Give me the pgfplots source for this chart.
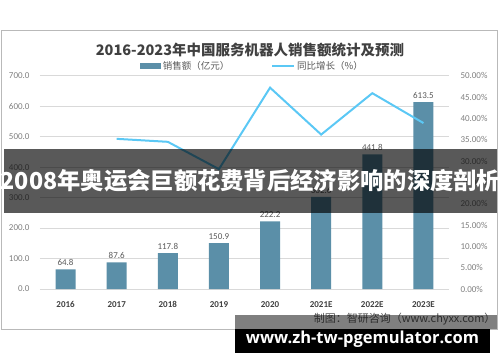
\documentclass[border=0pt]{standalone}
\usepackage{fontspec}
\setmainfont{Carlito}
\newfontfamily\cjk{Noto Sans CJK SC}
\newfontfamily\urlfont{Open Sans}
\usepackage{pgfplots}
\pgfplotsset{compat=1.18}
\definecolor{barc}{HTML}{5B8FA8}
\definecolor{linec}{HTML}{5BC8F5}
\definecolor{gridc}{HTML}{D9D9D9}
\definecolor{tickc}{HTML}{7F7F7F}
\definecolor{labc}{HTML}{595959}
\definecolor{catc}{HTML}{404040}
\begin{document}
\begin{tikzpicture}
\useasboundingbox (-40bp,-73bp) rectangle (460bp,289bp);
\draw[gray!55, line width=0.9bp] (-39bp,-40bp) rectangle (457bp,259bp);
\node[font=\cjk\bfseries\fontsize{14.5bp}{16bp}\selectfont, text=catc] at (210bp,239bp) {2016-2023年中国服务机器人销售额统计及预测};
\begin{axis}[
  at={(0bp,0bp)}, anchor=south west, scale only axis,
  width=409bp, height=213.3bp,
  xmin=-0.5, xmax=7.5, ymin=0, ymax=700,
  axis line style={draw=none}, tick style={draw=none},
  ytick={0,100,...,700}, ymajorgrids, grid style={gridc, line width=0.9bp},
  xtick={0,...,7}, xticklabels={2016,2017,2018,2019,2020,2021E,2022E,2023E},
  xticklabel style={font=\bfseries\fontsize{9bp}{10bp}\selectfont, text=catc, yshift=-5bp},
  yticklabel style={font=\fontsize{9bp}{10bp}\selectfont, text=tickc, xshift=-7bp},
  yticklabel={\pgfmathprintnumber[fixed,fixed zerofill,precision=1]{\tick}},
  /pgf/number format/assume math mode=true,
  ybar, bar width=20bp,
  nodes near coords,
  nodes near coords style={font=\fontsize{9bp}{10bp}\selectfont, text=labc, /pgf/number format/.cd, fixed, fixed zerofill, precision=1, assume math mode=true},
  clip=false,
]
\addplot[fill=barc, draw=none] coordinates {(0,64.8) (1,87.6) (2,117.8) (3,150.9) (4,222.2) (5,302.6) (6,441.8) (7,613.5)};
\end{axis}
\begin{axis}[
  at={(0bp,0bp)}, anchor=south west, scale only axis,
  width=409bp, height=213.3bp,
  xmin=-0.5, xmax=7.5, ymin=0, ymax=50,
  axis y line*=right, axis x line=none,
  axis line style={draw=none}, tick style={draw=none},
  ytick={0,5,...,50},
  yticklabel style={font=\fontsize{9bp}{10bp}\selectfont, text=tickc, xshift=8bp},
  yticklabel={\pgfmathprintnumber[fixed,fixed zerofill,precision=2]{\tick}\%},
  /pgf/number format/assume math mode=true,
  clip=false,
  legend style={at={(0.52,1.045)}, anchor=center, draw=none, fill=none,
    legend columns=2, font=\cjk\fontsize{9.5bp}{11bp}\selectfont, text=labc,
    /tikz/every even column/.append style={column sep=40bp}},
]
\addlegendimage{legend image code/.code={\fill[barc] (0bp,-2.5bp) rectangle (20bp,2.5bp);}}
\addlegendentry{销售额（亿元）}
\addplot[linec, line width=2bp, mark=none, legend image code/.code={\draw[linec, line width=2bp] (0bp,0bp) -- (22bp,0bp);}] coordinates {(1,35.2) (2,34.5) (3,28.1) (4,47.2) (5,36.2) (6,45.9) (7,38.9)};
\addlegendentry{同比增长（\%）}
\end{axis}
\fill[black, opacity=0.65] (-36bp,140bp) rectangle (457bp,76bp);
\node[font=\cjk\bfseries\fontsize{23.3bp}{25bp}\selectfont, text=white] at (210.5bp,108bp) {2008年奥运会巨额花费背后经济影响的深度剖析};
\node[font=\cjk\fontsize{11bp}{12bp}\selectfont, text=labc, anchor=east] at (459bp,-30bp) {制图：智研咨询（www.chyxx.com）};
\fill[black, opacity=0.5] (195bp,-26bp) rectangle (457bp,-40bp);
\fill[black] (195bp,-40bp) rectangle (450bp,-64bp);
\node[font=\urlfont\bfseries\fontsize{16.5bp}{18bp}\selectfont, text=white] at (322.5bp,-50bp) {www.zh-tw-pgemulator.com};
\end{tikzpicture}
\end{document}
